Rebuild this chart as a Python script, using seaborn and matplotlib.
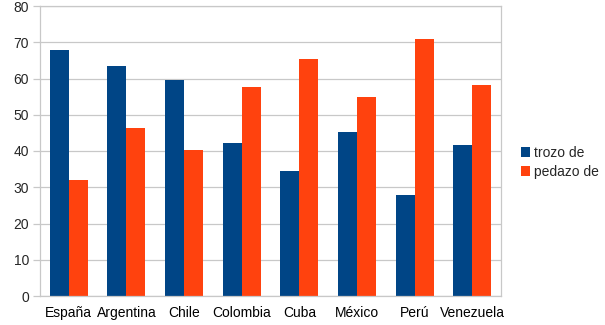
import pandas as pd
import matplotlib
matplotlib.use('Agg')
import matplotlib.pyplot as plt
import seaborn as sns
from matplotlib.ticker import FixedLocator

## datos
paises = ['España', 'Argentina', 'Chile', 'Colombia', 'Cuba', 'México', 'Perú', 'Venezuela']
trozo = [68.0, 63.5, 59.5, 42.3, 34.6, 45.2, 28.0, 41.7]
pedazo = [31.9, 46.3, 40.4, 57.7, 65.3, 54.8, 71.0, 58.3]
series = ['trozo de', 'pedazo de']
colores = ['#004586', '#ff420e']

df = pd.DataFrame({'pais': paises * 2,
                   'valor': trozo + pedazo,
                   'serie': [series[0]] * len(paises) + [series[1]] * len(paises)})

sns.set_style("white")
plt.rcParams['font.family'] = ['Liberation Sans', 'DejaVu Sans']

fig, ax = plt.subplots(figsize=(6.05, 3.25), dpi=100)
fig.subplots_adjust(left=40/605, right=501/605, bottom=1-296/325, top=1-6/325)

sns.barplot(data=df, x='pais', y='valor', hue='serie', palette=colores,
            width=0.66, saturation=1, linewidth=0, ax=ax, legend=True)

ax.set_ylim(0, 80)
ax.set_xlim(-0.5, len(paises) - 0.5)
ax.set_yticks(range(0, 81, 10))
ax.yaxis.grid(True, color='#c8c8c8', linewidth=0.9)
ax.set_axisbelow(True)
ax.set_xlabel('')
ax.set_ylabel('')

for lado in ['left', 'bottom', 'top', 'right']:
    ax.spines[lado].set_color('#c8c8c8')
    ax.spines[lado].set_linewidth(0.9)

ax.tick_params(axis='x', which='major', length=0, pad=7, labelsize=10, colors='black')
ax.xaxis.set_minor_locator(FixedLocator([i - 0.5 for i in range(len(paises) + 1)]))
ax.tick_params(axis='x', which='minor', length=5, color='#c8c8c8', width=0.9)
ax.tick_params(axis='y', length=5, color='#c8c8c8', width=0.9, labelsize=10, pad=3, left=True)

handles, labels = ax.get_legend_handles_labels()
ax.legend(handles, labels, loc='center left', bbox_to_anchor=(508/605, 0.5),
          bbox_transform=fig.transFigure, frameon=False, fontsize=10,
          handlelength=0.7, handleheight=0.7, handletextpad=0.3, labelspacing=0.35)

plt.savefig('out.png', dpi=100)
